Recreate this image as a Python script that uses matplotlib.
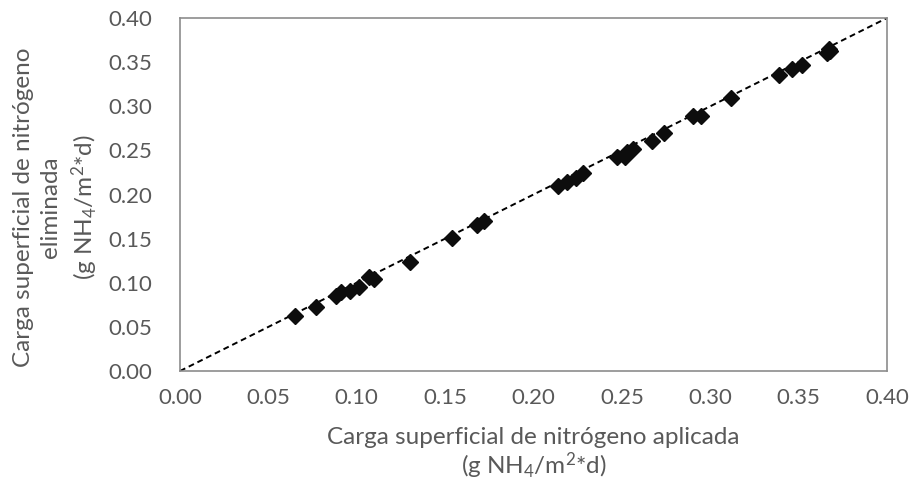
import numpy as np
import matplotlib.pyplot as plt

plt.rcParams['font.family'] = ['Lato', 'DejaVu Sans']
plt.rcParams['mathtext.fontset'] = 'custom'
plt.rcParams['mathtext.rm'] = 'Lato'
plt.rcParams['mathtext.it'] = 'Lato:italic'

# applied load vs removed load (g NH4/m2*d)
applied = [0.065, 0.077, 0.088, 0.091, 0.096, 0.101, 0.107, 0.110, 0.130,
           0.154, 0.168, 0.172, 0.214, 0.219, 0.224, 0.228, 0.247, 0.252,
           0.253, 0.256, 0.267, 0.274, 0.290, 0.295, 0.312, 0.339, 0.346,
           0.352, 0.366, 0.368, 0.367]
removed = [0.062, 0.073, 0.085, 0.089, 0.091, 0.095, 0.106, 0.104, 0.123,
           0.151, 0.166, 0.170, 0.210, 0.214, 0.219, 0.224, 0.243, 0.243,
           0.248, 0.252, 0.261, 0.270, 0.289, 0.289, 0.309, 0.335, 0.342,
           0.347, 0.360, 0.363, 0.365]
trend_x = [0.0, 0.40]
trend_y = [0.0, 0.40]
ticks = [0.00, 0.05, 0.10, 0.15, 0.20, 0.25, 0.30, 0.35, 0.40]

text_color = '#595959'
frame_color = '#8c8c8c'

fig = plt.figure(figsize=(9.11, 4.87), dpi=100)
ax = fig.add_axes([0.1976, 0.2382, 0.7761, 0.7248])

ax.plot(trend_x, trend_y, linestyle=(0, (3, 2)), color='black', linewidth=1.4, zorder=2)
ax.plot(applied, removed, linestyle='none', marker='D', markersize=8.5,
        color='#0d0d0d', zorder=3)

ax.set_xlim(0, 0.40)
ax.set_ylim(0, 0.40)
ax.set_xticks(ticks)
ax.set_yticks(ticks)
ax.set_xticklabels([f'{t:.2f}' for t in ticks])
ax.set_yticklabels([f'{t:.2f}' for t in ticks])
ax.tick_params(axis='both', length=0, labelsize=16, colors=text_color)
ax.tick_params(axis='x', pad=12)
ax.tick_params(axis='y', pad=20)

for sp in ax.spines.values():
    sp.set_color(frame_color)
    sp.set_linewidth(1.2)

ax.set_xlabel('Carga superficial de nitrógeno aplicada\n(g NH$_4$/m$^2$*d)',
              fontsize=17.5, color=text_color, linespacing=1.1, labelpad=14)
ax.set_ylabel('Carga superficial de nitrógeno\neliminada\n(g NH$_4$/m$^2$*d)',
              fontsize=17.5, color=text_color, linespacing=1.35)
ax.yaxis.set_label_coords(-0.113, 0.465)

fig.savefig('out.png', dpi=100)
